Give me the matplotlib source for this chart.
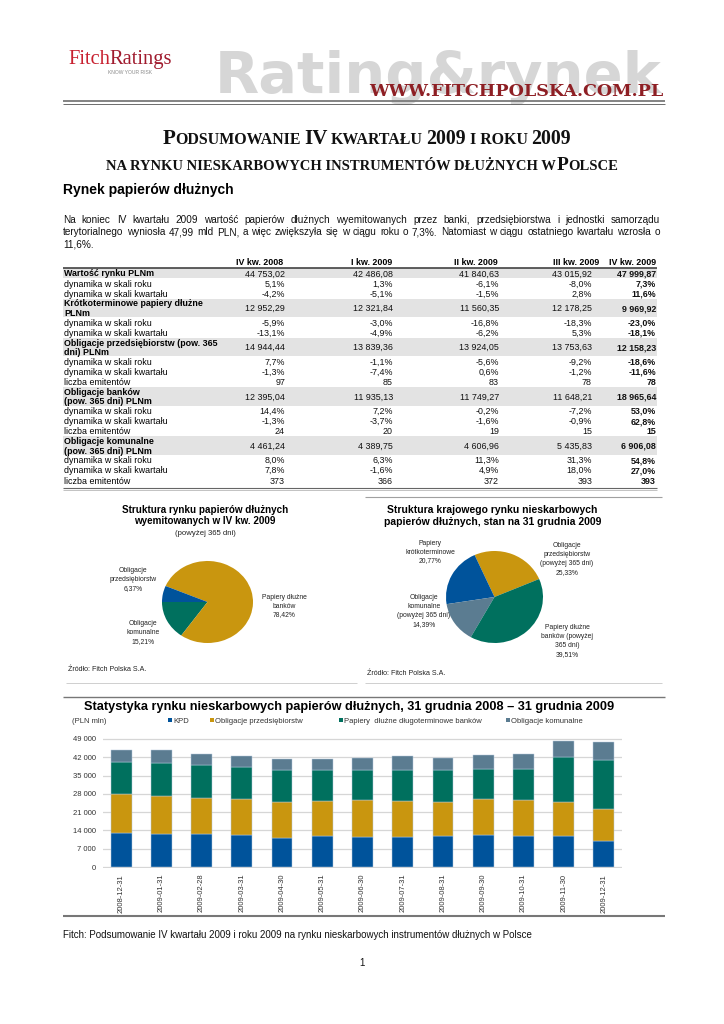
import matplotlib
matplotlib.use('Agg')
import matplotlib.pyplot as plt
from matplotlib.patches import Rectangle
import numpy as np

# ---------------- DATA ----------------
quarters = ['IV kw. 2008', 'I kw. 2009', 'II kw. 2009', 'III kw. 2009', 'IV kw. 2009']
market_total = [44753.02, 42486.08, 41840.63, 43015.92, 47999.87]
market_yoy = [5.1, 1.3, -6.1, -8.0, 7.3]
market_qoq = [-4.2, -5.1, -1.5, 2.8, 11.6]
short_val = [12952.29, 12321.84, 11560.35, 12178.25, 9969.92]
short_yoy = [-5.9, -3.0, -16.8, -18.3, -23.0]
short_qoq = [-13.1, -4.9, -6.2, 5.3, -18.1]
corp_val = [14944.44, 13839.36, 13924.05, 13753.63, 12158.23]
corp_yoy = [7.7, -1.1, -5.6, -9.2, -18.6]
corp_qoq = [-1.3, -7.4, 0.6, -1.2, -11.6]
corp_n = [97, 85, 83, 78, 78]
bank_val = [12395.04, 11935.13, 11749.27, 11648.21, 18965.64]
bank_yoy = [14.4, 7.2, -0.2, -7.2, 53.0]
bank_qoq = [-1.3, -3.7, -1.6, -0.9, 62.8]
bank_n = [24, 20, 19, 15, 15]
muni_val = [4461.24, 4389.75, 4606.96, 5435.83, 6906.08]
muni_yoy = [8.0, 6.3, 11.3, 31.3, 54.8]
muni_qoq = [7.8, -1.6, 4.9, 18.0, 27.0]
muni_n = [373, 366, 372, 393, 393]

pie1_labels = ['Obligacje\nkomunalne', 'Papiery dłużne\nbanków', 'Obligacje\nprzedsiębiorstw']
pie1_values = [15.21, 78.42, 6.37]
pie2_labels = ['Obligacje\nprzedsiębiorstw\n(powyżej 365 dni)', 'Papiery\nkrótkoterminowe',
               'Obligacje\nkomunalne\n(powyżej 365 dni)', 'Papiery dłużne\nbanków (powyżej\n365 dni)']
pie2_values = [25.33, 20.77, 14.39, 39.51]

months = ['2008-12-31', '2009-01-31', '2009-02-28', '2009-03-31', '2009-04-30', '2009-05-31',
          '2009-06-30', '2009-07-31', '2009-08-31', '2009-09-30', '2009-10-31', '2009-11-30',
          '2009-12-31']
kpd = [12952, 12500, 12500, 12322, 11000, 11700, 11560, 11500, 11900, 12178, 11700, 11900, 9970]
corp = [14944, 14700, 13900, 13839, 14000, 13700, 13924, 13900, 12800, 13754, 13900, 13000, 12158]
bank = [12395, 12800, 12600, 11935, 12100, 11700, 11749, 11900, 12400, 11648, 11800, 17100, 18966]
muni = [4461, 4700, 4300, 4390, 4100, 4100, 4607, 5100, 4500, 5436, 6000, 6200, 6906]
series_names = ['KPD', 'Obligacje przedsiębiorstw', 'Papiery  dłużne długoterminowe banków',
                'Obligacje komunalne']

# ---------------- STYLE ----------------
BLUE, GOLD, GREEN, SLATE = '#00539B', '#C9960F', '#00705E', '#5B7C91'
SANS = 'Liberation Sans'
SERIF = 'Liberation Serif'
W, H = 724, 1024

fig = plt.figure(figsize=(W / 100, H / 100), dpi=100)
bg = fig.add_axes([0, 0, 1, 1])
bg.set_xlim(0, W)
bg.set_ylim(H, 0)
bg.axis('off')
R = fig.canvas.get_renderer()


def tw(s, **kw):
    t = bg.text(0, 0, s, **kw)
    w = t.get_window_extent(R).width
    t.remove()
    return w


def fit(s, target, **kw):
    return 10.0 * target / tw(s, fontsize=10, **kw)


def bl(yc, fs):
    # baseline for a visual (cap-height) centre yc at font size fs (pt)
    return yc + 0.36 * fs * 100 / 72


def hline(x0, x1, y, lw, color):
    bg.plot([x0, x1], [y, y], color=color, lw=lw, solid_capstyle='butt')


# ---------------- HEADER ----------------
fs = fit('Rating&rynek', 446, family='DejaVu Sans', weight='bold')
bg.text(215, 93, 'Rating&rynek', fontsize=fs, family='DejaVu Sans', weight='bold',
        color='#D6D6D6', ha='left', va='baseline', zorder=1)
fs = fit('FitchRatings', 105, family=SERIF)
w1 = tw('Fitch', fontsize=fs, family=SERIF)
bg.text(68, 64, 'Fitch', fontsize=fs, family=SERIF, color='#C8202F', ha='left', va='baseline')
bg.text(68 + w1, 64, 'Ratings', fontsize=fs, family=SERIF, color='#A01B2E', ha='left', va='baseline')
fs = fit('KNOW YOUR RISK', 44, family=SANS)
bg.text(108, 72, 'KNOW YOUR RISK', fontsize=fs, family=SANS, color='#8a8a8a', ha='left', va='center')
bg.text(663, 96.5, 'WWW.FITCHPOLSKA.COM.PL', fontsize=12.6, family='DejaVu Serif', weight='bold',
        color='#8E1F24', ha='right', va='baseline', zorder=3)
hline(63, 665, 100.5, 1.3, '#7a7a7a')
hline(63, 665, 104, 0.6, '#555555')


# ---------------- TITLES (small caps) ----------------
def seg_line(segs, xc, y, target, family, weight, color):
    base = 10.0
    ws = []
    for s, k in segs:
        if s == ' ':
            ws.append(tw('a a', fontsize=base * k, family=family, weight=weight) -
                      tw('aa', fontsize=base * k, family=family, weight=weight))
        else:
            ws.append(tw(s, fontsize=base * k, family=family, weight=weight))
    f = target / sum(ws)
    x = xc - target / 2
    for (s, k), w in zip(segs, ws):
        if s != ' ':
            bg.text(x, y, s, fontsize=base * k * f, family=family, weight=weight,
                    color=color, ha='left', va='baseline')
        x += w * f


sc = 0.76
seg_line([('P', 1), ('ODSUMOWANIE', sc), (' ', sc), ('IV', 1), (' ', sc), ('KWARTAŁU', sc),
          (' ', sc), ('2009', 0.95), (' ', sc), ('I ROKU', sc), (' ', sc), ('2009', 0.95)],
         367, 144, 409, SERIF, 'bold', '#111111')
seg_line([('NA RYNKU NIESKARBOWYCH INSTRUMENTÓW DŁUŻNYCH W', sc), (' ', sc), ('P', 1), ('OLSCE', sc)],
         362, 170, 511, SERIF, 'bold', '#111111')

fs = fit('Rynek papierów dłużnych', 171, family=SANS, weight='bold')
bg.text(63, 194, 'Rynek papierów dłużnych', fontsize=fs, family=SANS, weight='bold',
        ha='left', va='baseline', color='#000000')

# ---------------- PARAGRAPH ----------------
para = ['Na koniec IV kwartału 2009 wartość papierów dłużnych wyemitowanych przez banki, przedsiębiorstwa i jednostki samorządu',
        'terytorialnego wyniosła 47,99 mld PLN, a więc zwiększyła się w ciągu roku o 7,3%. Natomiast w ciągu ostatniego kwartału wzrosła o',
        '11,6%.']
PFS = 7.2
pkw = dict(fontsize=PFS, family=SANS, color='#111111')


def justify(line, x0, x1, y):
    words = line.split(' ')
    ws = [tw(w, **pkw) for w in words]
    gap = (x1 - x0 - sum(ws)) / (len(words) - 1)
    x = x0
    for w, wd in zip(words, ws):
        bg.text(x, y, w, ha='left', va='baseline', **pkw)
        x += wd + gap


justify(para[0], 63, 660, bl(219, PFS))
justify(para[1], 63, 660, bl(231.5, PFS))
bg.text(63, bl(244, PFS), para[2], ha='left', va='baseline', **pkw)

# ---------------- TABLE ----------------
col_right = [285, 393, 499, 592, 656]
hdr_right = [283, 392, 498, 599, 656]
TX0, TX1 = 63, 657
TFS = 6.4


def fv(v):
    return f"{v:,.2f}".replace(',', ' ').replace('.', ',')


def fp(v):
    return f"{v:.1f}%".replace('.', ',')


rows = [
    (['Wartość rynku PLNm'], True, [fv(v) for v in market_total]),
    (['dynamika w skali roku'], False, [fp(v) for v in market_yoy]),
    (['dynamika w skali kwartału'], False, [fp(v) for v in market_qoq]),
    (['Krótkoterminowe papiery dłużne', 'PLNm'], True, [fv(v) for v in short_val]),
    (['dynamika w skali roku'], False, [fp(v) for v in short_yoy]),
    (['dynamika w skali kwartału'], False, [fp(v) for v in short_qoq]),
    (['Obligacje przedsiębiorstw (pow. 365', 'dni) PLNm'], True, [fv(v) for v in corp_val]),
    (['dynamika w skali roku'], False, [fp(v) for v in corp_yoy]),
    (['dynamika w skali kwartału'], False, [fp(v) for v in corp_qoq]),
    (['liczba emitentów'], False, [str(v) for v in corp_n]),
    (['Obligacje banków', '(pow. 365 dni) PLNm'], True, [fv(v) for v in bank_val]),
    (['dynamika w skali roku'], False, [fp(v) for v in bank_yoy]),
    (['dynamika w skali kwartału'], False, [fp(v) for v in bank_qoq]),
    (['liczba emitentów'], False, [str(v) for v in bank_n]),
    (['Obligacje komunalne', '(pow. 365 dni) PLNm'], True, [fv(v) for v in muni_val]),
    (['dynamika w skali roku'], False, [fp(v) for v in muni_yoy]),
    (['dynamika w skali kwartału'], False, [fp(v) for v in muni_qoq]),
    (['liczba emitentów'], False, [str(v) for v in muni_n]),
]

for q, xr in zip(quarters, hdr_right):
    bg.text(xr, bl(262, TFS), q, fontsize=TFS, family=SANS, weight='bold', ha='right', va='baseline')
hline(TX0, TX1, 267.6, 1.1, '#333333')

y = 268.2
for labels, head, vals in rows:
    h = 10.2 if len(labels) == 1 else 18.6
    yc = y + h / 2
    if head:
        bg.add_patch(Rectangle((TX0, y), TX1 - TX0, h, color='#E3E3E3', lw=0, zorder=0.5))
    if len(labels) == 1:
        bg.text(TX0 + 1, bl(yc, TFS), labels[0], fontsize=TFS, family=SANS,
                weight='bold' if head else 'normal', ha='left', va='baseline')
    else:
        for i, lab in enumerate(labels):
            bg.text(TX0 + 1, bl(yc + (i - 0.5) * 9.6, TFS), lab, fontsize=TFS, family=SANS,
                    weight='bold', ha='left', va='baseline')
    for j, (v, xr) in enumerate(zip(vals, col_right)):
        bg.text(xr, bl(yc, TFS), v, fontsize=TFS, family=SANS, weight='bold' if j == 4 else 'normal',
                ha='right', va='baseline', color='#111111')
    y += h
hline(TX0, TX1, y + 2.5, 0.8, '#666666')
hline(TX0, TX1, y + 4.5, 0.5, '#aaaaaa')

# ---------------- PIE CHARTS ----------------
hline(365, 662, 497, 0.8, '#a0a0a0')
hline(66, 357, 683, 0.6, '#c8c8c8')
hline(365, 662, 683, 0.6, '#c8c8c8')

tfs = fit('Struktura rynku papierów dłużnych', 166, family=SANS, weight='bold')
bg.text(205, bl(509, tfs), 'Struktura rynku papierów dłużnych', fontsize=tfs, family=SANS,
        weight='bold', ha='center', va='baseline')
bg.text(205, bl(520.5, tfs), 'wyemitowanych w IV kw. 2009', fontsize=tfs, family=SANS,
        weight='bold', ha='center', va='baseline')
bg.text(205, bl(532, tfs * 0.78), '(powyżej 365 dni)', fontsize=tfs * 0.78, family=SANS,
        ha='center', va='baseline', color='#222222')

ax1 = fig.add_axes([162 / W, 1 - 643 / H, 91 / W, 82 / H])
ax1.pie(pie1_values, colors=[GREEN, GOLD, BLUE], startangle=180, counterclock=True,
        wedgeprops=dict(linewidth=0))
ax1.set_aspect('auto')
ax1.set_xlim(-1, 1)
ax1.set_ylim(-1, 1)
ax1.axis('off')


def pct(v):
    return f"{v:.2f}%".replace('.', ',')


LFS = 4.9
lab1_pos = [(143, 632.5), (284, 606), (133, 579.5)]
for lab, v, (lx, ly) in zip(pie1_labels, pie1_values, lab1_pos):
    bg.text(lx, ly, lab + '\n' + pct(v), fontsize=LFS, family=SANS, ha='center', va='center',
            linespacing=1.35, color='#222222')
sfs = fit('Źródło: Fitch Polska S.A.', 79, family=SANS)
bg.text(68, bl(668, sfs), 'Źródło: Fitch Polska S.A.', fontsize=sfs, family=SANS, ha='left',
        va='baseline', color='#222222')

tfs2 = fit('Struktura krajowego rynku nieskarbowych', 209, family=SANS, weight='bold')
bg.text(492.5, bl(509, tfs2), 'Struktura krajowego rynku nieskarbowych', fontsize=tfs2, family=SANS,
        weight='bold', ha='center', va='baseline')
bg.text(492.5, bl(521, tfs2), 'papierów dłużnych, stan na 31 grudnia 2009', fontsize=tfs2,
        family=SANS, weight='bold', ha='center', va='baseline')

ax2 = fig.add_axes([446 / W, 1 - 643 / H, 97 / W, 92 / H])
ax2.pie(pie2_values, colors=[GOLD, BLUE, SLATE, GREEN], startangle=23, counterclock=True,
        wedgeprops=dict(linewidth=0))
ax2.set_aspect('auto')
ax2.set_xlim(-1, 1)
ax2.set_ylim(-1, 1)
ax2.axis('off')

lab2_pos = [(567, 559), (430, 552), (424, 611), (567, 641)]
for lab, v, (lx, ly) in zip(pie2_labels, pie2_values, lab2_pos):
    bg.text(lx, ly, lab + '\n' + pct(v), fontsize=LFS, family=SANS, ha='center', va='center',
            linespacing=1.35, color='#222222')
bg.text(367, bl(672, sfs), 'Źródło: Fitch Polska S.A.', fontsize=sfs, family=SANS, ha='left',
        va='baseline', color='#222222')

# ---------------- BAR CHART ----------------
hline(63, 665, 697, 1.0, '#777777')
title = 'Statystyka rynku nieskarbowych papierów dłużnych, 31 grudnia 2008 – 31 grudnia 2009'
bfs = fit(title, 532, family=SANS, weight='bold')
bg.text(349, bl(705, bfs), title, fontsize=bfs, family=SANS, weight='bold', ha='center',
        va='baseline')
bg.text(72, bl(720, 5.5), '(PLN mln)', fontsize=5.5, family=SANS, ha='left', va='baseline',
        color='#333333')
leg_x = [168, 210, 339, 506]
for name, col, lx in zip(series_names, [BLUE, GOLD, GREEN, SLATE], leg_x):
    bg.add_patch(Rectangle((lx, 718), 4.2, 4.2, color=col, lw=0))
    bg.text(lx + 5, bl(720.2, 5.5), name, fontsize=5.5, family=SANS, ha='left', va='baseline',
            color='#333333')

ppu = 128.0 / 49000
axb = fig.add_axes([103 / W, 1 - (867 + 200 * ppu) / H, 519 / W, (49400 * ppu) / H])
xpos = np.arange(len(months))
bottom = np.zeros(len(months))
for vals, col in zip([kpd, corp, bank, muni], [BLUE, GOLD, GREEN, SLATE]):
    axb.bar(xpos, vals, 0.52, bottom=bottom, color=col, edgecolor='#b5c9dc', linewidth=0.35, zorder=3)
    bottom += np.array(vals, dtype=float)
axb.set_xlim(-0.45, 12.45)
axb.set_ylim(-200, 49200)
yt = list(range(0, 49001, 7000))
axb.set_yticks(yt)
axb.set_yticklabels([f"{v:,}".replace(',', ' ') for v in yt], fontsize=5.5, family=SANS,
                    color='#333333')
axb.set_xticks(xpos)
axb.set_xticklabels(months, rotation=90, fontsize=5.5, family=SANS, color='#333333')
axb.grid(axis='y', color='#D6D6D6', lw=0.9)
axb.set_axisbelow(True)
for sp in axb.spines.values():
    sp.set_visible(False)
axb.tick_params(axis='y', length=0, pad=5)
axb.tick_params(axis='x', length=0, pad=4.5)
axb.patch.set_alpha(0)

hline(63, 665, 916, 1.5, '#777777')

# ---------------- FOOTER ----------------
foot = 'Fitch: Podsumowanie IV kwartału 2009 i roku 2009 na rynku nieskarbowych instrumentów dłużnych w Polsce'
ffs = fit(foot, 472, family=SANS)
bg.text(63, bl(934, ffs), foot, fontsize=ffs, family=SANS, ha='left', va='baseline', color='#111111')
bg.text(362, bl(962, 7), '1', fontsize=7, family=SANS, ha='center', va='baseline', color='#111111')

fig.savefig('out.png', dpi=100)
